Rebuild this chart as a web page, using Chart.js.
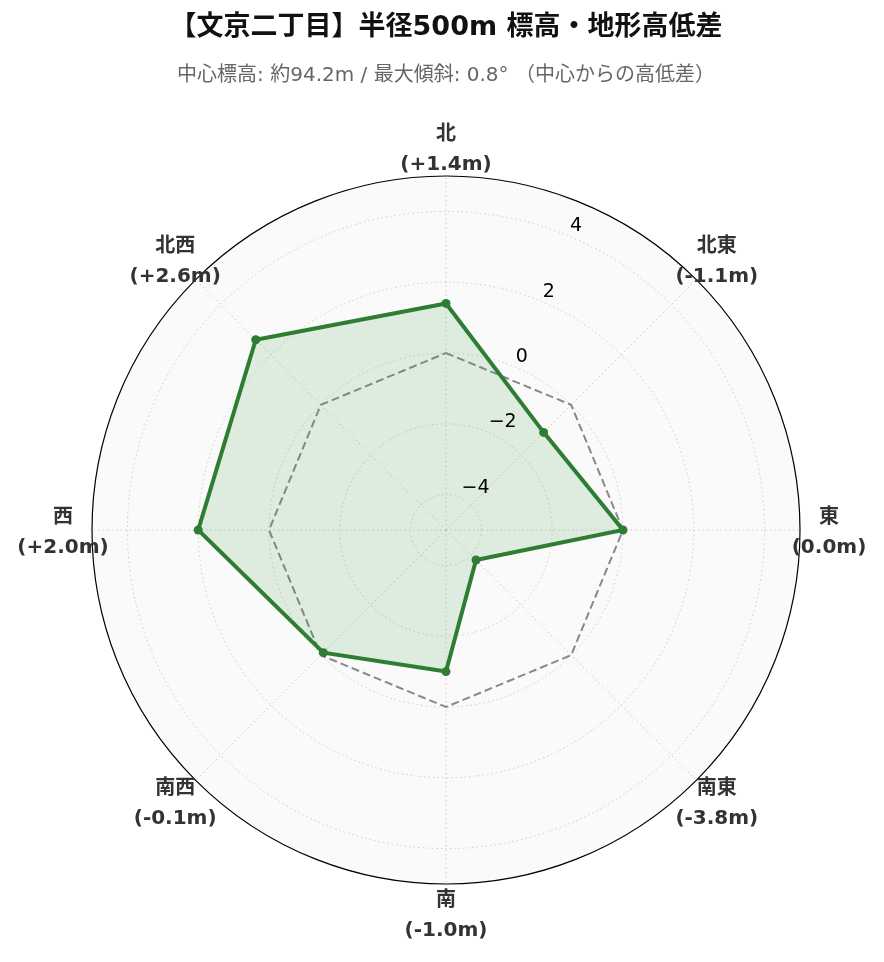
<!DOCTYPE html>
<html>
<head>
<meta charset="utf-8">
<script src="https://cdn.jsdelivr.net/npm/chart.js@4.4.1/dist/chart.umd.min.js"></script>
<style>
  html, body { margin: 0; padding: 0; background: #ffffff; }
  #wrap { width: 884px; height: 962px; position: relative; }
</style>
</head>
<body>
<div id="wrap"><canvas id="radar-chart"></canvas></div>
<script>
// --- data ---
const directions = ['北', '北東', '東', '南東', '南', '南西', '西', '北西'];
const elevationDiff = [1.4, -1.1, 0.0, -3.8, -1.0, -0.1, 2.0, 2.6];
const centerLine = [0, 0, 0, 0, 0, 0, 0, 0];
const tickValues = [-4, -2, 0, 2, 4];
const tickLabels = ['−4', '−2', '0', '2', '4'];
const scaleMin = -5;
const scaleMax = 5;

const FONT = '"DejaVu Sans", "Noto Sans CJK JP", sans-serif';
Chart.defaults.font.family = FONT;

function diffText(v) {
  return '(' + (v > 0 ? '+' : '') + v.toFixed(1) + 'm)';
}

// draws the direction labels and the radial tick labels
const labelPlugin = {
  id: 'labelPlugin',
  afterDatasetsDraw(chart) {
    const scale = chart.scales.r;
    const ctx = chart.ctx;
    ctx.save();

    // direction labels (2 lines)
    ctx.font = 'bold 20px ' + FONT;
    ctx.fillStyle = '#333333';
    ctx.textAlign = 'center';
    ctx.textBaseline = 'middle';
    directions.forEach((d, i) => {
      const p = scale.getPointPosition(i, scale.drawingArea + 29);
      ctx.fillText(d, p.x, p.y - 12);
      ctx.fillText(diffText(elevationDiff[i]), p.x, p.y + 17.5);
    });

    // tick labels along 22.5deg
    const ang = 22.5 * Math.PI / 180;
    ctx.font = '19px ' + FONT;
    ctx.fillStyle = '#000000';
    ctx.textAlign = 'left';
    ctx.textBaseline = 'bottom';
    tickValues.forEach((v, i) => {
      const r = scale.getDistanceFromCenterForValue(v);
      const x = scale.xCenter + r * Math.sin(ang);
      const y = scale.yCenter - r * Math.cos(ang);
      ctx.fillText(tickLabels[i], x + 2, y);
    });
    ctx.restore();
  }
};

const config = {
  type: 'radar',
  data: {
    labels: directions,
    datasets: [
      {
        label: '高低差',
        data: elevationDiff,
        borderColor: '#2e7d32',
        backgroundColor: 'rgba(67, 160, 71, 0.15)',
        borderWidth: 4,
        fill: 'start',
        pointRadius: 4.5,
        pointBackgroundColor: '#2e7d32',
        pointBorderColor: '#2e7d32',
        pointBorderWidth: 0
      },
      {
        label: '中心',
        data: centerLine,
        borderColor: '#888888',
        borderWidth: 2,
        borderDash: [8, 4],
        fill: false,
        pointRadius: 0
      }
    ]
  },
  options: {
    responsive: true,
    maintainAspectRatio: false,
    animation: false,
    layout: {
      padding: { left: 91, right: 83, top: 0, bottom: 77 }
    },
    scales: {
      r: {
        min: scaleMin,
        max: scaleMax,
        backgroundColor: '#fafafa',
        afterBuildTicks: s => {
          s.ticks = tickValues.concat([scaleMax]).map(v => ({ value: v }));
        },
        ticks: { display: false },
        pointLabels: { display: false },
        grid: {
          circular: true,
          color: c => (c.tick && c.tick.value === scaleMax) ? '#000000' : '#cccccc',
          lineWidth: c => (c.tick && c.tick.value === scaleMax) ? 1.2 : 1
        },
        border: {
          dash: c => (c.tick && c.tick.value === scaleMax) ? [] : [1.5, 3]
        },
        angleLines: {
          color: '#cccccc',
          lineWidth: 1,
          borderDash: [1.5, 3]
        }
      }
    },
    plugins: {
      legend: { display: false },
      tooltip: { enabled: false },
      title: {
        display: true,
        text: '【文京二丁目】半径500m 標高・地形高低差',
        color: '#111111',
        font: { size: 27, weight: 'bold', lineHeight: 1.2 },
        padding: { top: 11.8, bottom: 0 }
      },
      subtitle: {
        display: true,
        text: '中心標高: 約94.2m / 最大傾斜: 0.8° （中心からの高低差）',
        color: '#666666',
        font: { size: 20, lineHeight: 1.2 },
        padding: { top: 20, bottom: 87 }
      }
    }
  },
  plugins: [labelPlugin]
};

const ctx = document.getElementById('radar-chart').getContext('2d');
window.myRadar = new Chart(ctx, config);
</script>
</body>
</html>
